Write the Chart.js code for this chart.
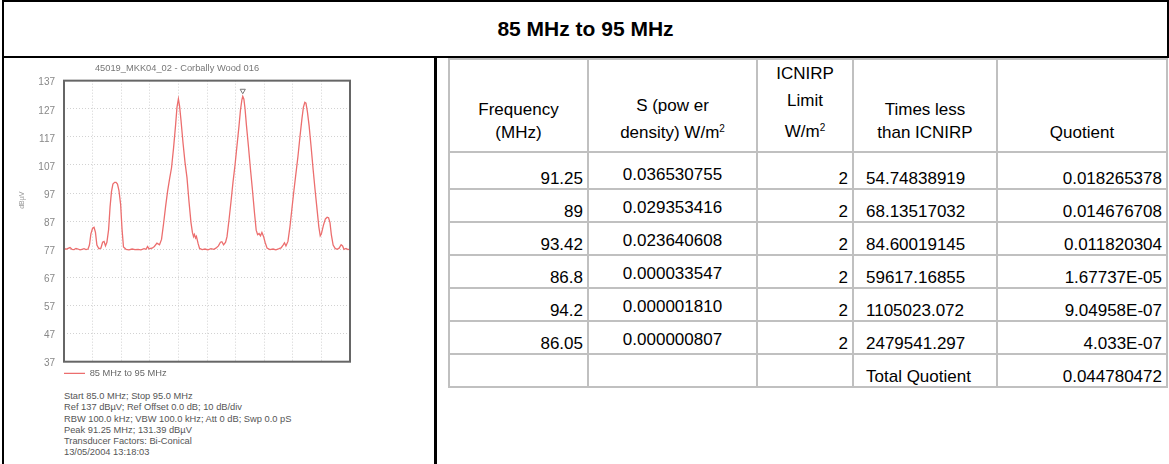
<!DOCTYPE html>
<html>
<head>
<meta charset="utf-8">
<script src="https://cdn.jsdelivr.net/npm/chart.js@4.4.1/dist/chart.umd.min.js"></script>
<style>
  html, body { margin: 0; padding: 0; background: #fff; }
  body { width: 1169px; height: 464px; position: relative; overflow: hidden; font-family: "Liberation Sans", Arial, sans-serif; }
  #titleBox { position: absolute; left: 2px; top: 0; width: 1163px; height: 54px; border: 2px solid #000; text-align: center; font-weight: bold; font-size: 21px; line-height: 54px; }
  #chartPanel { position: absolute; left: 2px; top: 58px; width: 430px; height: 410px; border-left: 2px solid #000; border-right: 3px solid #000; }
  #spectrum { position: absolute; left: 4px; top: 58px; }
  #scanInfo { position: absolute; left: 64px; top: 391px; font-size: 9.3px; line-height: 11.3px; color: #555; white-space: nowrap; }
  #results { position: absolute; left: 448px; top: 58px; border-collapse: collapse; table-layout: fixed; font-size: 17px; color: #000; }
  #results td { border: 2px solid #c0c0c0; padding: 0 4px; white-space: nowrap; overflow: visible; line-height: 18px; vertical-align: bottom; }
  #results tr.head td { height: 84px; text-align: center; line-height: 23px; padding-bottom: 7px; }
  #results tr.head td.limit { line-height: 27px; padding-bottom: 6px; }
  #results tr.row td { height: 27px; }
  #results tr.first td { height: 31px; }
  #results td.num { text-align: right; }
  #results td.dens { text-align: center; padding-bottom: 4px; }
  #results td.times { text-align: left; padding-left: 12px; }
</style>
</head>
<body>
<div id="titleBox">85 MHz to 95 MHz</div>
<div id="chartPanel"></div>
<canvas id="spectrum" width="365" height="330"></canvas>
<div id="scanInfo"></div>
<table id="results">
  <colgroup>
    <col style="width:139px"><col style="width:169px"><col style="width:96px"><col style="width:144px"><col style="width:170px">
  </colgroup>
  <tbody id="resultsBody">
    <tr class="head">
      <td>Frequency<br>(MHz)</td>
      <td>S (pow er<br>density) W/m<sup style="font-size:10px;vertical-align:6px">2</sup></td>
      <td class="limit">ICNIRP<br>Limit<br>W/m<sup style="font-size:10px;vertical-align:6px">2</sup></td>
      <td>Times less<br>than ICNIRP</td>
      <td>Quotient</td>
    </tr>
  </tbody>
</table>
<script>
// Spectrum trace (MHz / dBuV)
const traceMHz = [
  85.00, 85.07, 85.14, 85.21, 85.28, 85.35, 85.42, 85.49, 85.56, 85.63,
  85.70, 85.77, 85.84, 85.89, 85.94, 86.00, 86.05, 86.10, 86.15, 86.22,
  86.29, 86.35, 86.40, 86.45, 86.50, 86.56, 86.61, 86.66, 86.71, 86.77,
  86.82, 86.87, 86.92, 86.98, 87.03, 87.08, 87.17, 87.27, 87.38, 87.48,
  87.59, 87.69, 87.80, 87.87, 87.92, 87.97, 88.08, 88.16, 88.25, 88.34,
  88.41, 88.48, 88.55, 88.62, 88.69, 88.76, 88.83, 88.90, 88.95, 89.00,
  89.04, 89.09, 89.16, 89.23, 89.30, 89.37, 89.44, 89.49, 89.53, 89.56,
  89.60, 89.63, 89.69, 89.74, 89.83, 89.93, 90.03, 90.14, 90.24, 90.31,
  90.40, 90.47, 90.52, 90.58, 90.65, 90.70, 90.77, 90.84, 90.91, 90.98,
  91.05, 91.12, 91.17, 91.22, 91.25, 91.29, 91.33, 91.38, 91.45, 91.52,
  91.59, 91.66, 91.72, 91.77, 91.82, 91.87, 91.92, 91.98, 92.03, 92.10,
  92.20, 92.31, 92.41, 92.52, 92.59, 92.66, 92.71, 92.76, 92.83, 92.90,
  92.97, 93.04, 93.11, 93.18, 93.25, 93.32, 93.37, 93.42, 93.46, 93.51,
  93.57, 93.64, 93.71, 93.78, 93.85, 93.91, 93.96, 94.00, 94.07, 94.14,
  94.20, 94.25, 94.30, 94.35, 94.41, 94.48, 94.55, 94.62, 94.69, 94.74,
  94.79, 94.86, 94.93, 95.00
];
const traceDbuv = [
  77.4, 77.0, 77.3, 77.6, 77.0, 76.9, 77.3, 77.1, 76.8, 77.0,
  77.2, 76.9, 77.1, 78.5, 82.5, 84.5, 84.8, 83.0, 78.5, 77.2,
  77.4, 79.5, 79.8, 78.2, 79.5, 84.0, 92.0, 97.5, 100.2, 100.8,
  100.8, 100.2, 98.0, 93.0, 84.0, 77.8, 77.0, 76.8, 77.1, 76.9,
  77.0, 76.8, 77.2, 77.0, 78.0, 77.2, 77.4, 78.0, 79.2, 78.6,
  80.5, 86.0, 92.0, 97.5, 102.0, 106.0, 113.0, 121.0, 127.5, 130.5,
  128.0, 123.0, 115.0, 108.0, 102.5, 94.0, 86.5, 83.0, 81.5, 82.3,
  81.0, 81.6, 79.0, 77.3, 76.9, 77.1, 76.8, 77.2, 77.0, 77.4,
  78.2, 79.5, 79.7, 78.6, 79.5, 81.5, 87.5, 94.0, 101.0, 107.0,
  114.0, 121.0, 126.5, 130.2, 131.4, 130.4, 127.0, 121.0, 113.5, 105.5,
  98.0, 90.0, 83.8, 82.2, 82.6, 81.8, 83.0, 81.5, 79.5, 77.4,
  76.9, 77.1, 76.8, 77.2, 77.5, 78.5, 79.3, 78.2, 79.8, 85.0,
  91.5, 98.0, 104.0, 110.0, 117.0, 123.5, 127.5, 129.3, 129.0, 126.0,
  121.0, 113.5, 105.5, 98.0, 91.0, 85.0, 81.8, 82.5, 85.5, 87.8,
  88.4, 88.2, 86.5, 82.0, 78.5, 77.3, 77.0, 77.4, 78.6, 78.2,
  77.0, 77.3, 76.9, 77.1
];
const peakMHz = [91.25];
const peakMarkDbuv = [133.4];
const freqTicks = [85, 86, 87, 88, 89, 90, 91, 92, 93, 94, 95];
const levelTicks = [37, 47, 57, 67, 77, 87, 97, 107, 117, 127, 137];
const plotTitle = '45019_MKK04_02 - Corbally Wood 016';
const traceLabel = '85 MHz to 95 MHz';
const levelUnit = 'dBµV';
const scanInfo = [
  'Start 85.0 MHz; Stop 95.0 MHz',
  'Ref 137 dBµV; Ref Offset 0.0 dB; 10 dB/div',
  'RBW 100.0 kHz; VBW 100.0 kHz; Att 0 dB; Swp 0.0 pS',
  'Peak 91.25 MHz; 131.39 dBµV',
  'Transducer Factors: Bi-Conical',
  '13/05/2004 13:18:03'
];

// Exposure table
const tableFreq = ['91.25', '89', '93.42', '86.8', '94.2', '86.05'];
const tableDensity = ['0.036530755', '0.029353416', '0.023640608', '0.000033547', '0.000001810', '0.000000807'];
const tableLimit = ['2', '2', '2', '2', '2', '2'];
const tableTimesLess = ['54.74838919', '68.13517032', '84.60019145', '59617.16855', '1105023.072', '2479541.297'];
const tableQuotient = ['0.018265378', '0.014676708', '0.011820304', '1.67737E-05', '9.04958E-07', '4.033E-07'];
const totalQuotient = '0.044780472';

// table rows
const body = document.getElementById('resultsBody');
function addRow(cells, first) {
  const tr = document.createElement('tr');
  tr.className = first ? 'row first' : 'row';
  cells.forEach(([text, cls]) => {
    const td = document.createElement('td');
    td.className = cls;
    td.textContent = text;
    tr.appendChild(td);
  });
  body.appendChild(tr);
}
tableFreq.forEach((f, i) => {
  addRow([[f, 'num'], [tableDensity[i], 'dens'], [tableLimit[i], 'num'], [tableTimesLess[i], 'times'], [tableQuotient[i], 'num']], i === 0);
});
addRow([['', 'num'], ['', 'dens'], ['', 'num'], ['Total Quotient', 'times'], [totalQuotient, 'num']], false);

document.getElementById('scanInfo').innerHTML = scanInfo.join('<br>');

// Spectrum chart
Chart.defaults.font.family = '"Liberation Sans", Arial, sans-serif';

// dark frame round the plot, like the analyser printout
const plotFrame = {
  id: 'plotFrame',
  afterDatasetsDraw(chart) {
    const { ctx, chartArea: a } = chart;
    ctx.save();
    ctx.strokeStyle = '#666';
    ctx.lineWidth = 2;
    ctx.strokeRect(a.left, a.top, a.right - a.left, a.bottom - a.top);
    ctx.restore();
  }
};

new Chart(document.getElementById('spectrum'), {
  type: 'line',
  data: {
    datasets: [
      {
        label: traceLabel,
        data: traceMHz.map((f, i) => ({ x: f, y: traceDbuv[i] })),
        borderColor: '#ec6e6e',
        borderWidth: 1.3,
        pointRadius: 0,
        tension: 0
      },
      {
        label: 'peak',
        type: 'scatter',
        data: peakMHz.map((f, i) => ({ x: f, y: peakMarkDbuv[i] })),
        pointStyle: 'triangle',
        rotation: 180,
        radius: 3,
        borderColor: '#777',
        borderWidth: 1,
        backgroundColor: '#fff'
      }
    ]
  },
  options: {
    responsive: false,
    animation: false,
    devicePixelRatio: 1,
    layout: { padding: { left: 0, right: 19, top: 0, bottom: 0 } },
    scales: {
      x: {
        type: 'linear',
        min: 85,
        max: 95,
        afterBuildTicks: (scale) => { scale.ticks = freqTicks.map((v) => ({ value: v })); },
        afterFit: (scale) => { scale.height = 7; },
        ticks: { display: false },
        grid: { color: '#d2d2d2', drawTicks: false },
        border: { display: false, dash: [1, 2] }
      },
      y: {
        type: 'linear',
        min: 37,
        max: 137,
        afterBuildTicks: (scale) => { scale.ticks = levelTicks.map((v) => ({ value: v })); },
        afterFit: (scale) => { scale.width = 60; },
        ticks: { color: '#888', font: { size: 10 }, padding: 9, labelOffset: 2 },
        grid: { color: '#d2d2d2', drawTicks: false },
        border: { display: false, dash: [1, 2] },
        // leading em spaces lift the unit up beside the 97 label
        title: { display: true, text: '\u2003'.repeat(6) + levelUnit, color: '#999', font: { size: 7 }, padding: { top: 14, bottom: 0 } }
      }
    },
    plugins: {
      title: {
        display: true,
        text: plotTitle,
        color: '#777',
        font: { size: 9.3, weight: 'normal' },
        padding: { top: 5, bottom: 6.5 }
      },
      legend: {
        display: true,
        position: 'bottom',
        align: 'start',
        fullSize: false,
        labels: {
          usePointStyle: true,
          pointStyle: 'line',
          pointStyleWidth: 21,
          padding: 0,
          color: '#666',
          font: { size: 9.3 },
          filter: (item) => item.datasetIndex === 0
        }
      },
      tooltip: { enabled: false }
    }
  },
  plugins: [plotFrame]
});
</script>
</body>
</html>
